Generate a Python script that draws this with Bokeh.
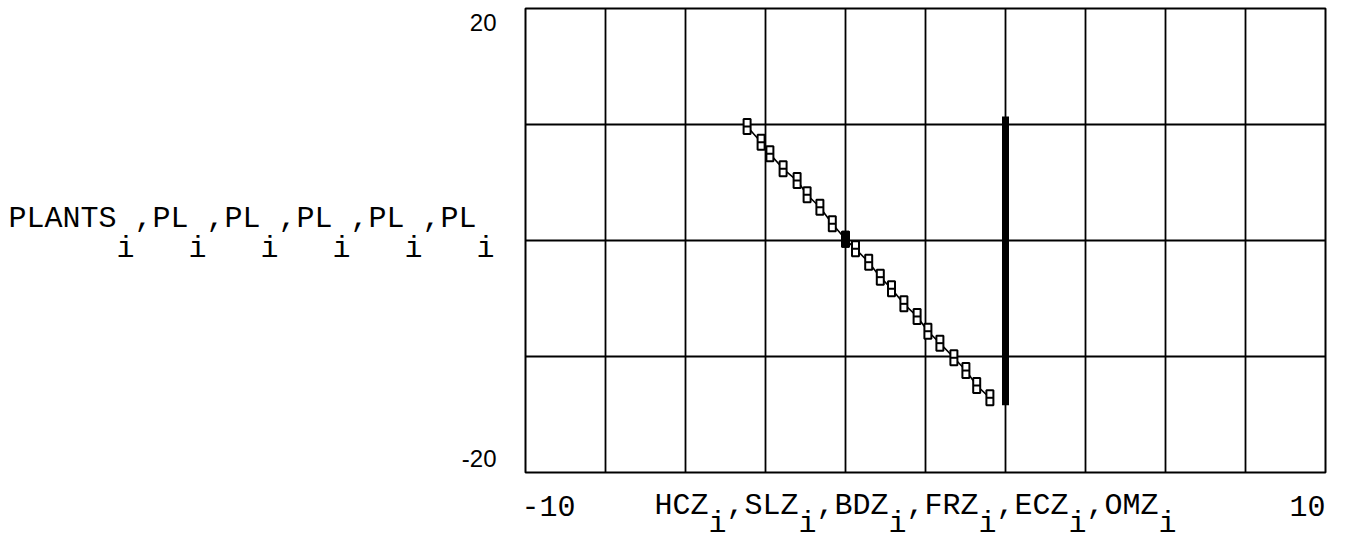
from bokeh.plotting import figure
from bokeh.models import Label, Range1d
from bokeh.embed import file_html
from bokeh.resources import INLINE

# ---- data ----
stair_x = [-4.46, -4.11, -3.89, -3.56, -3.21, -2.96, -2.64, -2.33, -2.00, -1.75, -1.42,
           -1.13, -0.85, -0.54, -0.21, 0.06, 0.36, 0.71, 1.01, 1.28, 1.61]
stair_y = [9.83, 8.47, 7.47, 6.18, 5.17, 3.94, 2.87, 1.44, 0.10, -0.72, -1.87,
           -3.16, -4.16, -5.46, -6.55, -7.82, -8.85, -10.11, -11.21, -12.50, -13.56]
filled_x = [-2.00]
filled_y = [0.10]
bar_x = [2.0]
bar_y_top = [10.7]
bar_y_bottom = [-14.2]

x_lim = [-10, 10]
y_lim = [-20, 20]
x_tick_labels = ["-10", "10"]
y_tick_labels = ["20", "-20"]
x_grid = [-8, -6, -4, -2, 0, 2, 4, 6, 8]
y_grid = [-10, 0, 10]
y_label_words = ["PLANTS", "PL", "PL", "PL", "PL", "PL"]
x_label_words = ["HCZ", "SLZ", "BDZ", "FRZ", "ECZ", "OMZ"]
subscript = "i"

# ---- layout (pixels) ----
W, H = 1339, 542
BOX_L, BOX_R, BOX_T, BOX_B = 525, 1325, 8, 472
PITCH = 18.0
FONT = "Liberation Mono"

xs = (x_lim[1] - x_lim[0]) / (BOX_R - BOX_L)   # data units per pixel
ys = (y_lim[1] - y_lim[0]) / (BOX_B - BOX_T)


def dx(px):
    return x_lim[0] + (px - BOX_L) * xs


def dy(py):
    return y_lim[1] - (py - BOX_T) * ys


p = figure(width=W, height=H,
           x_range=Range1d(dx(0), dx(W)), y_range=Range1d(dy(H), dy(0)),
           x_axis_location=None, y_axis_location=None,
           output_backend="svg", toolbar_location=None,
           min_border=0, min_border_left=0, min_border_right=0,
           min_border_top=0, min_border_bottom=0)
p.background_fill_color = "white"
p.border_fill_color = "white"
p.outline_line_color = None
p.xgrid.visible = False
p.ygrid.visible = False

# grid lines inside the plotting box
p.segment(x0=x_grid, y0=[y_lim[0]] * len(x_grid), x1=x_grid, y1=[y_lim[1]] * len(x_grid),
          line_color="black", line_width=1.8)
p.segment(x0=[x_lim[0]] * len(y_grid), y0=y_grid, x1=[x_lim[1]] * len(y_grid), y1=y_grid,
          line_color="black", line_width=1.8)
# box
p.quad(left=[x_lim[0]], right=[x_lim[1]], bottom=[y_lim[0]], top=[y_lim[1]],
       fill_color=None, line_color="black", line_width=2)

# connecting line and markers
p.line(stair_x, stair_y, line_color="black", line_width=1.6)
p.rect(stair_x, stair_y, width=7, height=15, width_units="screen", height_units="screen",
       fill_color="white", line_color="black", line_width=2)
p.scatter(stair_x, stair_y, marker="dash", size=7, line_color="black", line_width=2)
p.rect(filled_x, filled_y, width=7, height=15, width_units="screen", height_units="screen",
       fill_color="black", line_color="black", line_width=2)

# thick vertical bar
p.segment(x0=bar_x, y0=bar_y_bottom, x1=bar_x, y1=bar_y_top,
          line_color="black", line_width=7)


def add_text(text, px, py, align="left", size="30px", font=FONT):
    p.add_layout(Label(x=dx(px), y=dy(py), text=text, text_font=font,
                       text_font_size=size, text_align=align,
                       text_baseline="middle", text_color="black"))


def add_sub_label(words, left_px, py_main, py_sub):
    add_text(" ,".join(words), left_px, py_main)
    idx = 0
    for w in words:
        idx_i = idx + len(w)
        add_text(subscript, left_px + (idx_i + 0.5) * PITCH, py_sub, align="center")
        idx = idx_i + 2


# axis titles with subscripts
add_sub_label(y_label_words, 8, 218, 248)
add_sub_label(x_label_words, 654, 505, 523)

# tick labels
add_text(x_tick_labels[0], 521, 505, align="left")
add_text(x_tick_labels[1], 1325, 505, align="right")
add_text(y_tick_labels[0], 496, 21.5, align="right", size="24px", font="Liberation Sans")
add_text(y_tick_labels[1], 496, 458, align="right", size="24px", font="Liberation Sans")

open("out.html", "w").write(file_html(p, INLINE))
